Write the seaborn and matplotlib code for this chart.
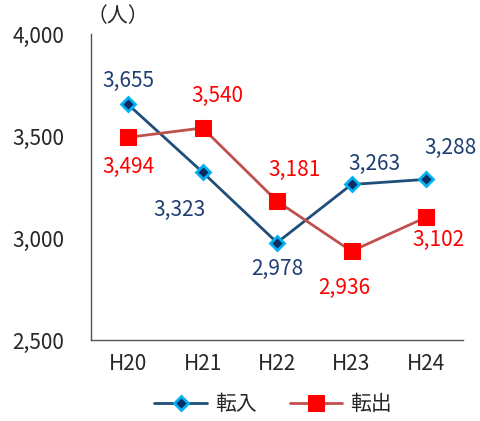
import pandas as pd
import seaborn as sns
import matplotlib.pyplot as plt
from matplotlib.ticker import FuncFormatter, FixedLocator

years = ['H20', 'H21', 'H22', 'H23', 'H24']
tennyu = [3655, 3323, 2978, 3263, 3288]   # 転入
tenshutsu = [3494, 3540, 3181, 2936, 3102]  # 転出

# label offsets in pixels (dx, dy)
off_in = [(0, 24), (-23, -38), (0, -26), (23, 21), (25, 31)]
off_out = [(0, -30), (15, 32), (17, 31), (-7, -37), (12, -23)]

sns.set_style('white')
plt.rcParams['font.family'] = ['Noto Sans CJK JP', 'DejaVu Sans']

df = pd.DataFrame({'year': years * 2,
                   'value': tennyu + tenshutsu,
                   'kind': ['転入'] * 5 + ['転出'] * 5})

fig = plt.figure(figsize=(4.81, 4.21), dpi=100)
ax = fig.add_axes([0.189, 0.192, 0.774, 0.727])

navy = '#1F3F73'
fs = 15
sns.lineplot(data=df[df.kind == '転入'], x='year', y='value', ax=ax,
             color='#1F4E79', lw=2, marker='D', markersize=7,
             markerfacecolor='#0B2D62', markeredgecolor='#00B0F0',
             markeredgewidth=2, label='転入')
sns.lineplot(data=df[df.kind == '転出'], x='year', y='value', ax=ax,
             color='#C0504D', lw=2, marker='s', markersize=11,
             markerfacecolor='#FF0000', markeredgecolor='#FF0000',
             label='転出')

for i, v in enumerate(tennyu):
    ax.annotate(f'{v:,}', (i, v), xytext=off_in[i], textcoords='offset pixels',
                ha='center', va='center', fontsize=fs, color=navy)
for i, v in enumerate(tenshutsu):
    ax.annotate(f'{v:,}', (i, v), xytext=off_out[i], textcoords='offset pixels',
                ha='center', va='center', fontsize=fs, color='#FF0000')

ax.set_ylim(2500, 4000)
ax.set_xlim(-0.5, 4.5)
ax.set_yticks([2500, 3000, 3500, 4000])
ax.yaxis.set_major_formatter(FuncFormatter(lambda v, p: f'{int(v):,}'))
ax.xaxis.set_minor_locator(FixedLocator([0.5, 1.5, 2.5, 3.5, 4.5]))
ax.tick_params(axis='x', which='major', length=0, pad=9, labelsize=fs)
ax.tick_params(axis='x', which='minor', direction='in', length=5, color='#555555')
ax.tick_params(axis='y', direction='in', length=5, color='#555555', pad=19, labelsize=fs)
ax.set_xlabel('')
ax.set_ylabel('')
for s in ['top', 'right']:
    ax.spines[s].set_visible(False)
for s in ['left', 'bottom']:
    ax.spines[s].set_color('#555555')
    ax.spines[s].set_linewidth(1)

fig.text(0.180, 0.963, '（人）', fontsize=15, ha='left', va='center')

ax.legend(loc='center', bbox_to_anchor=(0.49, -0.21), ncol=2, frameon=False,
          fontsize=fs, handlelength=2.5, columnspacing=1.6, handletextpad=0.4)

fig.savefig('out.png', dpi=100)
